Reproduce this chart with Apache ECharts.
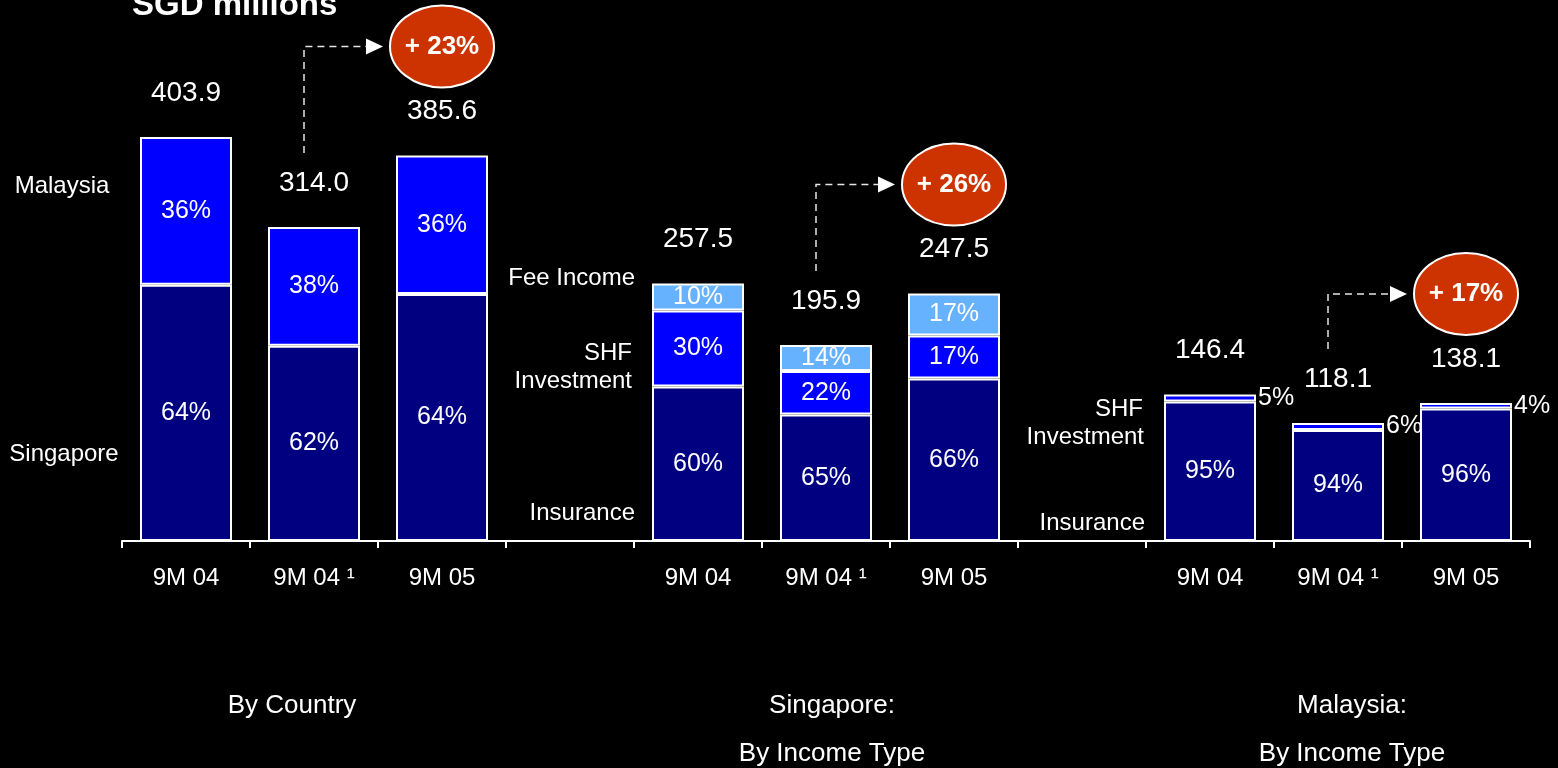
<!DOCTYPE html>
<html>
<head>
<meta charset="utf-8">
<script src="https://cdn.jsdelivr.net/npm/echarts@6/dist/echarts.min.js"></script>
<style>
  html, body { margin: 0; padding: 0; background: #000; }
  #chart { width: 1558px; height: 768px; }
</style>
</head>
<body>
<div id="chart"></div>
<script>
// x slots: three groups of three bars, separated by an empty slot
const categories = ['9M 04', '9M 04 ¹', '9M 05', '', '9M 04', '9M 04 ¹', '9M 05', '', '9M 04', '9M 04 ¹', '9M 05'];

// By Country (SGD m)
const countrySingapore = [256.3, 195.2, 247.0];
const countryMalaysia = [147.6, 118.8, 138.6];
const countryTotals = [403.9, 314.0, 385.6];
const countrySingaporePct = ['64%', '62%', '64%'];
const countryMalaysiaPct = ['36%', '38%', '36%'];

// Singapore by income type
const sgInsurance = [154.5, 126.5, 162.5];
const sgShf = [76.0, 43.5, 43.0];
const sgFee = [27.0, 25.9, 42.0];
const sgTotals = [257.5, 195.9, 247.5];
const sgInsurancePct = ['60%', '65%', '66%'];
const sgShfPct = ['30%', '22%', '17%'];
const sgFeePct = ['10%', '14%', '17%'];

// Malaysia by income type
const myInsurance = [139.4, 111.0, 132.6];
const myShf = [7.0, 7.1, 5.5];
const myTotals = [146.4, 118.1, 138.1];
const myInsurancePct = ['95%', '94%', '96%'];
const myShfPct = ['5%', '6%', '4%'];

const growthLabels = ['+ 23%', '+ 26%', '+ 17%'];

const groupStart = [0, 4, 8];
const FONT = '"Liberation Sans", Arial, sans-serif';
const NAVY = '#000080', BLUE = '#0000FF', LIGHT = '#66B2FF', RED = '#CC3300';

// place 3 values of a group into the 11-slot array
function slot(values, group) {
  const arr = new Array(categories.length).fill('-');
  values.forEach((v, i) => { arr[groupStart[group] + i] = v; });
  return arr;
}
function slotLabels(labels, group) {
  const arr = new Array(categories.length).fill('');
  labels.forEach((v, i) => { arr[groupStart[group] + i] = v; });
  return arr;
}
function merge(parts) {
  return parts[0].map((v, i) => {
    for (const p of parts) if (p[i] !== '-' && p[i] !== '') return p[i];
    return parts[0][i];
  });
}

function barSeries(name, color, values, labels) {
  return {
    name: name,
    type: 'bar',
    stack: 'total',
    barWidth: 92,
    itemStyle: { color: color, borderColor: '#fff', borderWidth: 2 },
    label: {
      show: true,
      position: 'inside',
      distance: 2,
      color: '#fff',
      fontSize: 25,
      fontFamily: FONT,
      formatter: p => labels[p.dataIndex]
    },
    data: values
  };
}

const navyVals = merge([slot(countrySingapore, 0), slot(sgInsurance, 1), slot(myInsurance, 2)]);
const navyLbls = merge([slotLabels(countrySingaporePct, 0), slotLabels(sgInsurancePct, 1), slotLabels(myInsurancePct, 2)]);
const blueVals = merge([slot(countryMalaysia, 0), slot(sgShf, 1), slot(myShf, 2)]);
const blueLbls = merge([slotLabels(countryMalaysiaPct, 0), slotLabels(sgShfPct, 1), slotLabels(myShfPct, 2)]);
const lightVals = slot(sgFee, 1);
const lightLbls = slotLabels(sgFeePct, 1);

// Malaysia SHF labels sit outside to the right of the bar
const blueData = blueVals.map((v, i) => i >= groupStart[2] ? { value: v, label: { position: 'right' } } : v);

const totalsData = [];
[countryTotals, sgTotals, myTotals].forEach((t, g) => t.forEach((v, i) => totalsData.push([groupStart[g] + i, v])));

const growthData = [countryTotals, sgTotals, myTotals].map((t, g) => [groupStart[g] + 2, t[2], groupStart[g] + 1, t[1]]);

function txt(x, y, text, size, align) {
  return { type: 'text', x: x, y: y, style: { text: text, fill: '#fff', font: size + 'px ' + FONT, align: align || 'center', verticalAlign: 'middle' } };
}

const chart = echarts.init(document.getElementById('chart'));
chart.setOption({
  backgroundColor: '#000',
  animation: false,
  textStyle: { fontFamily: FONT },
  grid: { left: 122, right: 28, top: 0, bottom: 227 },
  xAxis: {
    type: 'category',
    data: categories,
    axisLine: { lineStyle: { color: '#fff', width: 2 } },
    axisTick: { show: true, length: 7, lineStyle: { color: '#fff', width: 2 } },
    axisLabel: { color: '#fff', fontSize: 24, margin: 25, fontFamily: FONT }
  },
  yAxis: { type: 'value', min: 0, max: 541, show: false, splitLine: { show: false } },
  series: [
    barSeries('Insurance / Singapore', NAVY, navyVals, navyLbls),
    barSeries('SHF Investment / Malaysia', BLUE, blueData, blueLbls),
    barSeries('Fee Income', LIGHT, lightVals, lightLbls),
    {
      name: 'Totals',
      type: 'custom',
      data: totalsData,
      renderItem: (params, api) => {
        const p = api.coord([api.value(0), api.value(1)]);
        return {
          type: 'text', x: p[0], y: p[1] - 44,
          style: { text: api.value(1).toFixed(1), fill: '#fff', font: '28px ' + FONT, align: 'center', verticalAlign: 'middle' }
        };
      }
    },
    {
      name: 'Growth',
      type: 'custom',
      clip: false,
      data: growthData,
      renderItem: (params, api) => {
        const to = api.coord([api.value(0), api.value(1)]);
        const from = api.coord([api.value(2), api.value(3)]);
        const cx = to[0], cy = to[1] - 109, rx = 52, ry = 41;
        const lx = from[0] - 10, tip = cx - rx - 7;
        return {
          type: 'group',
          children: [
            { type: 'polyline', shape: { points: [[lx, from[1] - 74], [lx, cy], [tip - 15, cy]] },
              style: { stroke: '#e6e6e6', lineWidth: 1.5, lineDash: [7, 5], fill: null } },
            { type: 'polygon', shape: { points: [[tip - 17, cy - 8], [tip, cy], [tip - 17, cy + 8]] },
              style: { fill: '#fff' } },
            { type: 'ellipse', shape: { cx: cx, cy: cy, rx: rx, ry: ry },
              style: { fill: RED, stroke: '#fff', lineWidth: 2 } },
            { type: 'text', x: cx, y: cy,
              style: { text: growthLabels[params.dataIndex], fill: '#fff', font: 'bold 26px ' + FONT, align: 'center', verticalAlign: 'middle' } }
          ]
        };
      }
    }
  ],
  graphic: [
    { type: 'text', left: 132, top: -11, style: { text: 'SGD millions', fill: '#fff', font: 'bold 33px ' + FONT } },
    txt(62, 186, 'Malaysia', 24),
    txt(64, 454, 'Singapore', 24),
    txt(635, 278, 'Fee Income', 24, 'right'),
    txt(632, 353, 'SHF', 24, 'right'),
    txt(632, 381, 'Investment', 24, 'right'),
    txt(635, 513, 'Insurance', 24, 'right'),
    txt(1143, 409, 'SHF', 24, 'right'),
    txt(1144, 437, 'Investment', 24, 'right'),
    txt(1145, 523, 'Insurance', 24, 'right'),
    txt(292, 706, 'By Country', 26),
    txt(832, 706, 'Singapore:', 26),
    txt(832, 754, 'By Income Type', 26),
    txt(1352, 706, 'Malaysia:', 26),
    txt(1352, 754, 'By Income Type', 26)
  ]
});
</script>
</body>
</html>
